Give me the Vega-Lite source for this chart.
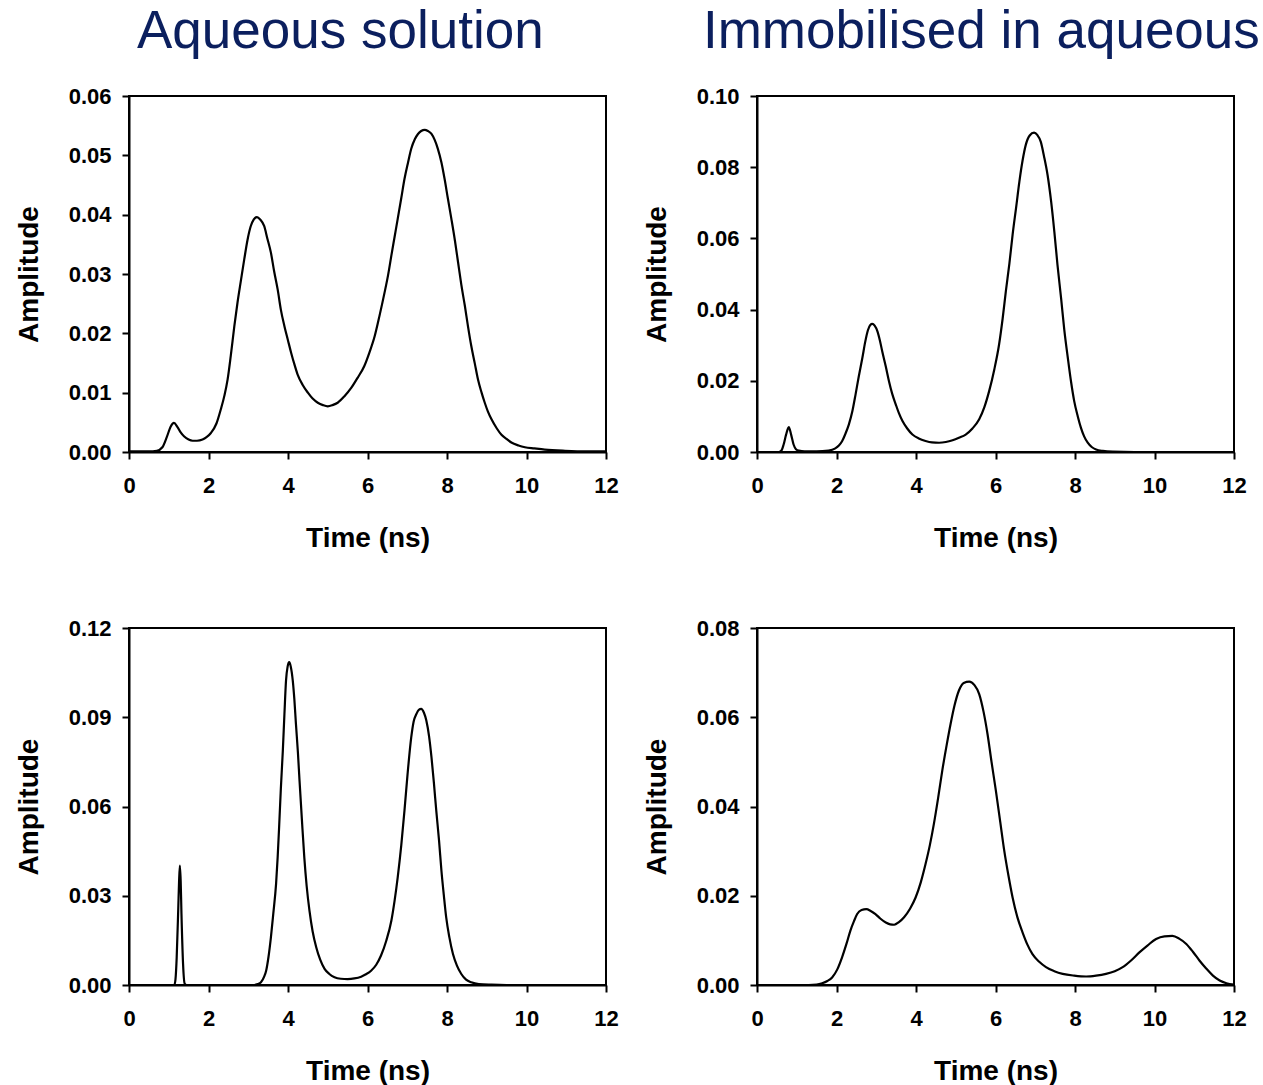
{
  "$schema": "https://vega.github.io/schema/vega-lite/v6.json",
  "background": "white",
  "padding": {"left": 14, "top": 5, "right": 0, "bottom": 0},
  "datasets": {
    "tl": [
      {"t":0,"a":0.0001},{"t":0.5,"a":0.0001},{"t":0.7,"a":0.0002},{"t":0.84,"a":0.0008},{"t":0.95,"a":0.0025},{"t":1.05,"a":0.0043},{"t":1.13,"a":0.0049},{"t":1.22,"a":0.0042},{"t":1.3,"a":0.0033},{"t":1.39,"a":0.0026},{"t":1.5,"a":0.0021},{"t":1.6,"a":0.0019},{"t":1.71,"a":0.0019},{"t":1.85,"a":0.0021},{"t":1.95,"a":0.0025},{"t":2.06,"a":0.0032},{"t":2.2,"a":0.0048},{"t":2.31,"a":0.0072},{"t":2.4,"a":0.0095},{"t":2.48,"a":0.0122},{"t":2.56,"a":0.0162},{"t":2.65,"a":0.0212},{"t":2.73,"a":0.0252},{"t":2.82,"a":0.0291},{"t":2.9,"a":0.0325},{"t":2.98,"a":0.0357},{"t":3.06,"a":0.038},{"t":3.14,"a":0.0392},{"t":3.22,"a":0.0396},{"t":3.3,"a":0.0392},{"t":3.4,"a":0.0381},{"t":3.48,"a":0.036},{"t":3.57,"a":0.0336},{"t":3.65,"a":0.0305},{"t":3.74,"a":0.0274},{"t":3.82,"a":0.024},{"t":3.91,"a":0.0212},{"t":4.0,"a":0.0188},{"t":4.08,"a":0.0167},{"t":4.16,"a":0.0148},{"t":4.24,"a":0.0131},{"t":4.37,"a":0.0113},{"t":4.5,"a":0.01},{"t":4.62,"a":0.009},{"t":4.75,"a":0.0083},{"t":4.88,"a":0.0079},{"t":5.0,"a":0.0077},{"t":5.12,"a":0.0079},{"t":5.25,"a":0.0083},{"t":5.42,"a":0.0094},{"t":5.59,"a":0.0108},{"t":5.75,"a":0.0125},{"t":5.92,"a":0.0145},{"t":6.05,"a":0.0168},{"t":6.18,"a":0.0195},{"t":6.3,"a":0.0229},{"t":6.43,"a":0.0269},{"t":6.52,"a":0.0299},{"t":6.6,"a":0.0331},{"t":6.68,"a":0.0362},{"t":6.76,"a":0.0393},{"t":6.85,"a":0.0428},{"t":6.93,"a":0.046},{"t":7.02,"a":0.0488},{"t":7.1,"a":0.0511},{"t":7.19,"a":0.0527},{"t":7.27,"a":0.0536},{"t":7.35,"a":0.0541},{"t":7.44,"a":0.0543},{"t":7.52,"a":0.0541},{"t":7.61,"a":0.0536},{"t":7.69,"a":0.0526},{"t":7.77,"a":0.0511},{"t":7.86,"a":0.0488},{"t":7.94,"a":0.046},{"t":8.02,"a":0.0428},{"t":8.11,"a":0.0393},{"t":8.2,"a":0.0356},{"t":8.28,"a":0.0319},{"t":8.36,"a":0.0282},{"t":8.45,"a":0.0246},{"t":8.53,"a":0.0211},{"t":8.61,"a":0.0179},{"t":8.7,"a":0.0149},{"t":8.78,"a":0.0122},{"t":8.87,"a":0.01},{"t":8.95,"a":0.0083},{"t":9.03,"a":0.0068},{"t":9.12,"a":0.0055},{"t":9.25,"a":0.004},{"t":9.37,"a":0.0029},{"t":9.5,"a":0.0022},{"t":9.62,"a":0.0016},{"t":9.8,"a":0.0011},{"t":9.96,"a":0.0008},{"t":10.2,"a":0.0006},{"t":10.46,"a":0.0004},{"t":10.97,"a":0.0002},{"t":11.5,"a":0.0001},{"t":12,"a":0.0001}
    ],
    "tr": [
      {"t":0,"a":0},{"t":0.55,"a":0},{"t":0.62,"a":0.0005},{"t":0.67,"a":0.0021},{"t":0.73,"a":0.0048},{"t":0.8,"a":0.007},{"t":0.86,"a":0.0048},{"t":0.92,"a":0.0021},{"t":0.98,"a":0.0008},{"t":1.05,"a":0.0004},{"t":1.2,"a":0.0002},{"t":1.5,"a":0.0002},{"t":1.8,"a":0.0004},{"t":1.97,"a":0.001},{"t":2.06,"a":0.0018},{"t":2.14,"a":0.003},{"t":2.22,"a":0.005},{"t":2.31,"a":0.0077},{"t":2.4,"a":0.0115},{"t":2.48,"a":0.0162},{"t":2.56,"a":0.0212},{"t":2.65,"a":0.0264},{"t":2.72,"a":0.0308},{"t":2.79,"a":0.0342},{"t":2.85,"a":0.0357},{"t":2.9,"a":0.036},{"t":2.96,"a":0.0355},{"t":3.03,"a":0.0339},{"t":3.09,"a":0.0314},{"t":3.15,"a":0.0283},{"t":3.24,"a":0.024},{"t":3.32,"a":0.0199},{"t":3.4,"a":0.0164},{"t":3.49,"a":0.0134},{"t":3.57,"a":0.0109},{"t":3.66,"a":0.0087},{"t":3.78,"a":0.0066},{"t":3.91,"a":0.0049},{"t":4.07,"a":0.0038},{"t":4.24,"a":0.0031},{"t":4.4,"a":0.0027},{"t":4.58,"a":0.0026},{"t":4.75,"a":0.0028},{"t":4.92,"a":0.0033},{"t":5.08,"a":0.004},{"t":5.25,"a":0.0049},{"t":5.42,"a":0.0066},{"t":5.59,"a":0.0092},{"t":5.72,"a":0.0126},{"t":5.84,"a":0.0171},{"t":5.97,"a":0.0232},{"t":6.09,"a":0.0302},{"t":6.18,"a":0.0375},{"t":6.26,"a":0.0451},{"t":6.35,"a":0.053},{"t":6.43,"a":0.061},{"t":6.52,"a":0.0688},{"t":6.6,"a":0.0759},{"t":6.68,"a":0.0818},{"t":6.76,"a":0.0862},{"t":6.86,"a":0.0889},{"t":6.97,"a":0.0897},{"t":7.05,"a":0.0891},{"t":7.14,"a":0.0871},{"t":7.22,"a":0.0831},{"t":7.31,"a":0.0778},{"t":7.4,"a":0.0703},{"t":7.48,"a":0.0619},{"t":7.56,"a":0.0525},{"t":7.65,"a":0.0432},{"t":7.73,"a":0.0344},{"t":7.82,"a":0.0264},{"t":7.9,"a":0.0198},{"t":7.98,"a":0.0143},{"t":8.07,"a":0.01},{"t":8.15,"a":0.0068},{"t":8.23,"a":0.0044},{"t":8.32,"a":0.0026},{"t":8.42,"a":0.0014},{"t":8.53,"a":0.0007},{"t":8.7,"a":0.0003},{"t":8.95,"a":0.0001},{"t":9.5,"a":0},{"t":12,"a":0}
    ],
    "bl": [
      {"t":0,"a":0},{"t":1.14,"a":0},{"t":1.17,"a":0.002},{"t":1.2,"a":0.0093},{"t":1.24,"a":0.026},{"t":1.26,"a":0.035},{"t":1.28,"a":0.0401},{"t":1.3,"a":0.035},{"t":1.32,"a":0.0239},{"t":1.36,"a":0.0071},{"t":1.4,"a":0.0005},{"t":1.45,"a":0},{"t":3.15,"a":0},{"t":3.24,"a":0.0003},{"t":3.32,"a":0.0009},{"t":3.4,"a":0.0028},{"t":3.45,"a":0.0048},{"t":3.51,"a":0.0095},{"t":3.57,"a":0.016},{"t":3.63,"a":0.024},{"t":3.7,"a":0.034},{"t":3.74,"a":0.043},{"t":3.78,"a":0.0541},{"t":3.82,"a":0.066},{"t":3.87,"a":0.0788},{"t":3.91,"a":0.091},{"t":3.95,"a":0.1023},{"t":3.99,"a":0.107},{"t":4.03,"a":0.1085},{"t":4.07,"a":0.107},{"t":4.12,"a":0.1023},{"t":4.16,"a":0.096},{"t":4.2,"a":0.0877},{"t":4.25,"a":0.078},{"t":4.29,"a":0.0687},{"t":4.35,"a":0.0555},{"t":4.41,"a":0.0429},{"t":4.47,"a":0.0332},{"t":4.54,"a":0.025},{"t":4.62,"a":0.018},{"t":4.71,"a":0.0127},{"t":4.81,"a":0.0085},{"t":4.92,"a":0.0054},{"t":5.04,"a":0.0037},{"t":5.17,"a":0.0026},{"t":5.33,"a":0.0021},{"t":5.5,"a":0.002},{"t":5.67,"a":0.0022},{"t":5.84,"a":0.0028},{"t":5.96,"a":0.0036},{"t":6.09,"a":0.0048},{"t":6.22,"a":0.0068},{"t":6.34,"a":0.0099},{"t":6.47,"a":0.0148},{"t":6.6,"a":0.0216},{"t":6.68,"a":0.0282},{"t":6.76,"a":0.0362},{"t":6.85,"a":0.047},{"t":6.93,"a":0.0586},{"t":7.01,"a":0.0712},{"t":7.1,"a":0.0832},{"t":7.16,"a":0.0885},{"t":7.23,"a":0.0911},{"t":7.29,"a":0.0925},{"t":7.35,"a":0.0928},{"t":7.42,"a":0.0915},{"t":7.48,"a":0.0889},{"t":7.55,"a":0.0835},{"t":7.61,"a":0.0765},{"t":7.67,"a":0.068},{"t":7.73,"a":0.0586},{"t":7.8,"a":0.0485},{"t":7.86,"a":0.0384},{"t":7.92,"a":0.0302},{"t":7.98,"a":0.0227},{"t":8.06,"a":0.016},{"t":8.15,"a":0.0104},{"t":8.25,"a":0.0065},{"t":8.36,"a":0.0037},{"t":8.48,"a":0.0018},{"t":8.61,"a":0.0009},{"t":8.8,"a":0.0003},{"t":9.12,"a":0.0001},{"t":9.5,"a":0},{"t":12,"a":0}
    ],
    "br": [
      {"t":0,"a":0},{"t":1.3,"a":0},{"t":1.5,"a":0.0001},{"t":1.64,"a":0.0004},{"t":1.77,"a":0.0009},{"t":1.89,"a":0.0017},{"t":2.02,"a":0.0035},{"t":2.14,"a":0.0062},{"t":2.25,"a":0.0092},{"t":2.35,"a":0.0122},{"t":2.44,"a":0.0143},{"t":2.52,"a":0.0159},{"t":2.63,"a":0.0168},{"t":2.75,"a":0.017},{"t":2.86,"a":0.0166},{"t":2.98,"a":0.0159},{"t":3.1,"a":0.0149},{"t":3.24,"a":0.014},{"t":3.35,"a":0.0136},{"t":3.45,"a":0.0135},{"t":3.57,"a":0.0141},{"t":3.7,"a":0.0152},{"t":3.85,"a":0.0171},{"t":3.99,"a":0.0196},{"t":4.12,"a":0.023},{"t":4.24,"a":0.0271},{"t":4.35,"a":0.0314},{"t":4.45,"a":0.0361},{"t":4.56,"a":0.0421},{"t":4.66,"a":0.048},{"t":4.77,"a":0.0537},{"t":4.87,"a":0.0585},{"t":4.97,"a":0.0627},{"t":5.08,"a":0.066},{"t":5.2,"a":0.0677},{"t":5.34,"a":0.068},{"t":5.47,"a":0.0672},{"t":5.59,"a":0.0652},{"t":5.7,"a":0.0612},{"t":5.8,"a":0.0562},{"t":5.9,"a":0.05},{"t":6.01,"a":0.0435},{"t":6.12,"a":0.0365},{"t":6.22,"a":0.0301},{"t":6.33,"a":0.0243},{"t":6.43,"a":0.0196},{"t":6.55,"a":0.0152},{"t":6.68,"a":0.0118},{"t":6.8,"a":0.0091},{"t":6.93,"a":0.0069},{"t":7.1,"a":0.0052},{"t":7.27,"a":0.004},{"t":7.48,"a":0.0031},{"t":7.69,"a":0.0025},{"t":7.98,"a":0.0021},{"t":8.28,"a":0.0019},{"t":8.53,"a":0.0021},{"t":8.78,"a":0.0025},{"t":9.0,"a":0.0031},{"t":9.2,"a":0.004},{"t":9.41,"a":0.0055},{"t":9.62,"a":0.0073},{"t":9.83,"a":0.0089},{"t":10.04,"a":0.0103},{"t":10.25,"a":0.0109},{"t":10.45,"a":0.011},{"t":10.62,"a":0.0104},{"t":10.8,"a":0.0092},{"t":10.97,"a":0.0074},{"t":11.13,"a":0.0055},{"t":11.3,"a":0.0037},{"t":11.47,"a":0.0021},{"t":11.64,"a":0.001},{"t":11.81,"a":0.0004},{"t":12,"a":0.0001}
    ]
  },
  "columns": 2,
  "spacing": {"column": 22, "row": 63},
  "concat": [
    {
      "width": 477, "height": 356,
      "title": {"text": "Aqueous solution", "anchor": "start", "frame": "group", "dx": 8, "offset": -16, "baseline": "alphabetic"},
      "data": {"name": "tl"},
      "mark": {"type": "line", "color": "black", "strokeWidth": 2.2, "interpolate": "monotone"},
      "encoding": {
        "x": {"field": "t", "type": "quantitative", "scale": {"domain": [0, 12]}, "axis": {"values": [0,2,4,6,8,10,12], "title": "Time (ns)"}},
        "y": {"field": "a", "type": "quantitative", "scale": {"domain": [0, 0.06]}, "axis": {"values": [0,0.01,0.02,0.03,0.04,0.05,0.06], "format": ".2f", "title": "Amplitude"}}
      }
    },
    {
      "width": 477, "height": 356,
      "title": {"text": "Immobilised in aqueous", "anchor": "start", "frame": "group", "dx": -54, "offset": -16, "baseline": "alphabetic"},
      "data": {"name": "tr"},
      "mark": {"type": "line", "color": "black", "strokeWidth": 2.2, "interpolate": "monotone"},
      "encoding": {
        "x": {"field": "t", "type": "quantitative", "scale": {"domain": [0, 12]}, "axis": {"values": [0,2,4,6,8,10,12], "title": "Time (ns)"}},
        "y": {"field": "a", "type": "quantitative", "scale": {"domain": [0, 0.1]}, "axis": {"values": [0,0.02,0.04,0.06,0.08,0.1], "format": ".2f", "title": "Amplitude"}}
      }
    },
    {
      "width": 477, "height": 357,
      "data": {"name": "bl"},
      "mark": {"type": "line", "color": "black", "strokeWidth": 2.2, "interpolate": "monotone"},
      "encoding": {
        "x": {"field": "t", "type": "quantitative", "scale": {"domain": [0, 12]}, "axis": {"values": [0,2,4,6,8,10,12], "title": "Time (ns)"}},
        "y": {"field": "a", "type": "quantitative", "scale": {"domain": [0, 0.12]}, "axis": {"values": [0,0.03,0.06,0.09,0.12], "format": ".2f", "title": "Amplitude"}}
      }
    },
    {
      "width": 477, "height": 357,
      "data": {"name": "br"},
      "mark": {"type": "line", "color": "black", "strokeWidth": 2.2, "interpolate": "monotone"},
      "encoding": {
        "x": {"field": "t", "type": "quantitative", "scale": {"domain": [0, 12]}, "axis": {"values": [0,2,4,6,8,10,12], "title": "Time (ns)"}},
        "y": {"field": "a", "type": "quantitative", "scale": {"domain": [0, 0.08]}, "axis": {"values": [0,0.02,0.04,0.06,0.08], "format": ".2f", "title": "Amplitude"}}
      }
    }
  ],
  "config": {
    "view": {"stroke": "black", "strokeWidth": 2},
    "title": {"font": "Liberation Sans", "fontSize": 53, "fontWeight": "normal", "color": "#0b1f5e"},
    "axis": {
      "grid": false,
      "domainColor": "black", "domainWidth": 2,
      "tickColor": "black", "tickWidth": 2, "tickSize": 7,
      "labelFont": "Liberation Sans", "labelFontSize": 22, "labelFontWeight": "bold", "labelColor": "black",
      "labelFlush": false, "labelOverlap": false,
      "titleFont": "Liberation Sans", "titleFontSize": 28, "titleFontWeight": "bold", "titleColor": "black"
    },
    "axisX": {"labelPadding": 16, "titlePadding": 28},
    "axisY": {"labelPadding": 11, "titlePadding": 25}
  }
}
